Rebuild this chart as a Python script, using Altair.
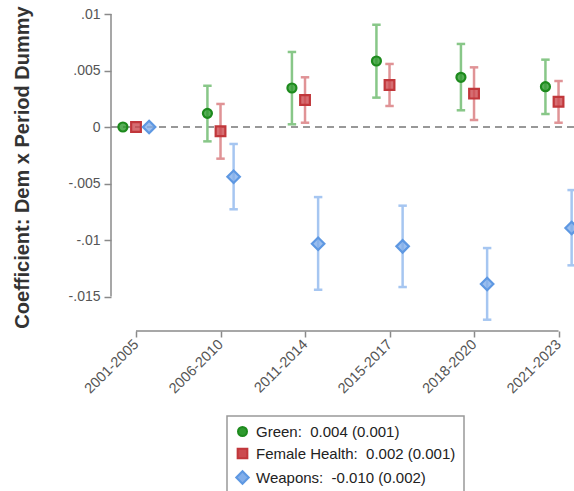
import altair as alt
import pandas as pd

# Period labels along the x axis
periods = ["2001-2005", "2006-2010", "2011-2014", "2015-2017", "2018-2020", "2021-2023"]

# Coefficient estimates and 95% CI bounds per period, one set per outcome
green_coef = [0.0, 0.00121, 0.00345, 0.00584, 0.00440, 0.00357]
green_lo = [0.0, -0.00127, 0.00024, 0.00260, 0.00148, 0.00115]
green_hi = [0.0, 0.00365, 0.00664, 0.00905, 0.00735, 0.00596]

health_coef = [0.0, -0.00038, 0.00239, 0.00372, 0.00295, 0.00224]
health_lo = [0.0, -0.00280, 0.00038, 0.00186, 0.00062, 0.00038]
health_hi = [0.0, 0.00204, 0.00440, 0.00558, 0.00528, 0.00407]

weapons_coef = [0.0, -0.00440, -0.01033, -0.01056, -0.01389, -0.00894]
weapons_lo = [0.0, -0.00728, -0.01440, -0.01416, -0.01705, -0.01224]
weapons_hi = [0.0, -0.00150, -0.00620, -0.00696, -0.01071, -0.00558]

# Legend entries: pooled estimate (standard error)
legend_labels = [
    "Green:\u00a0 0.004 (0.001)",
    "Female Health:\u00a0 0.002 (0.001)",
    "Weapons:\u00a0 -0.010 (0.002)",
]

# y axis ticks and their printed labels
y_ticks = [-0.015, -0.01, -0.005, 0.0, 0.005, 0.01]
y_tick_labels = ["-.015", "-.01", "-.005", "0", ".005", ".01"]

rows = []
for order, (label, coef, lo, hi) in enumerate([
    (legend_labels[0], green_coef, green_lo, green_hi),
    (legend_labels[1], health_coef, health_lo, health_hi),
    (legend_labels[2], weapons_coef, weapons_lo, weapons_hi),
]):
    for i, p in enumerate(periods):
        rows.append({"series": label, "order": order, "period": i,
                     "coef": coef[i], "lo": lo[i], "hi": hi[i]})
df = pd.DataFrame(rows)

W, H = 463, 317
FONT = "Liberation Sans"

x_scale = alt.Scale(domain=[-0.296, 5.183], nice=False, zero=False)
y_scale = alt.Scale(domain=[-0.01805, 0.01], nice=False, zero=False)

# label lookups for the axes
x_label_expr = "[" + ",".join(f"'{p}'" for p in periods) + "][round(datum.value)]"
y_label_expr = ""
for v, t in zip(y_ticks, y_tick_labels):
    y_label_expr += f"abs(datum.value - ({v})) < 0.001 ? '{t}' : "
y_label_expr += "''"

base = alt.Chart(df).transform_calculate(
    xpos="datum.period + (datum.order - 1) * 0.155"
)

x_enc = alt.X(
    "xpos:Q", scale=x_scale, title=None,
    axis=alt.Axis(values=list(range(len(periods))), labelExpr=x_label_expr,
                  domain=False, grid=False, tickSize=6, tickColor="#8a8a8a",
                  tickWidth=1.5, labelAngle=315, labelAlign="right",
                  labelBaseline="middle", labelFontSize=14.5, labelColor="#555555",
                  labelFont=FONT, labelPadding=5),
)

zero_line = alt.Chart(pd.DataFrame({"z": [0.0]})).mark_rule(
    color="#777777", strokeDash=[7, 5], strokeWidth=1.5
).encode(
    y=alt.Y("z:Q", scale=y_scale,
            title="Coefficient: Dem x Period Dummy",
            axis=alt.Axis(values=y_ticks, labelExpr=y_label_expr, domain=False,
                          grid=False, tickSize=7, tickColor="#8a8a8a",
                          tickWidth=1.5, labelFontSize=14, labelColor="#555555",
                          labelFont=FONT, labelPadding=4,
                          titleFont=FONT, titleFontSize=20,
                          titleFontWeight="bold", titleColor="#333333",
                          titleBaseline="alphabetic", titleX=-83, titleY=153))
)

y_axis_line = alt.Chart(pd.DataFrame({"a": [min(y_ticks)], "b": [max(y_ticks)]})).mark_rule(
    color="#8a8a8a", strokeWidth=1.5
).encode(
    x=alt.value(0),
    y=alt.Y("a:Q", scale=y_scale),
    y2="b:Q",
)

x_axis_line = alt.Chart(pd.DataFrame({"a": [0], "b": [len(periods) - 1]})).mark_rule(
    color="#8a8a8a", strokeWidth=1.5
).encode(
    x=alt.X("a:Q", scale=x_scale),
    x2="b:Q",
    y=alt.value(H),
)

bar_colors = ["#88c788", "#e09396", "#a6c6f1"]
fill_colors = ["#2e9a2e", "#cc4a4f", "#82aeea"]
stroke_colors = ["#1d8a1d", "#c1373b", "#5e98e2"]
# marker outlines: circle, square, diamond (unit coordinates scaled by the mark size)
marker_paths = [
    "M-0.9,0A0.9,0.9 0 1,0 0.9,0A0.9,0.9 0 1,0 -0.9,0Z",
    "M-0.97,-0.97H0.97V0.97H-0.97Z",
    "M-1.25,0L0,-1.25L1.25,0L0,1.25Z",
]

# confidence intervals with end caps, one colour per outcome
ci_layers = []
for label, col in zip(legend_labels, bar_colors):
    sub = base.transform_filter(
        alt.FieldEqualPredicate(field="series", equal=label)
    ).transform_filter("datum.hi != datum.lo")
    ci_layers.append(
        sub.mark_rule(strokeWidth=2.5, color=col).encode(
            x=x_enc, y=alt.Y("lo:Q", scale=y_scale), y2="hi:Q"
        )
    )
    for end in ["lo", "hi"]:
        ci_layers.append(
            sub.transform_calculate(
                x1="datum.xpos - 0.05", x2e="datum.xpos + 0.05"
            ).mark_rule(strokeWidth=2.5, color=col).encode(
                x=alt.X("x1:Q", scale=x_scale),
                x2="x2e:Q",
                y=alt.Y(f"{end}:Q", scale=y_scale),
            )
        )

points = base.mark_point(filled=True, strokeWidth=2.2, fillOpacity=0.8,
                         opacity=1, size=100).encode(
    x=x_enc,
    y=alt.Y("coef:Q", scale=y_scale),
    shape=alt.Shape("series:N", title=None,
                    scale=alt.Scale(domain=legend_labels, range=marker_paths)),
    fill=alt.Fill("series:N", title=None,
                  scale=alt.Scale(domain=legend_labels, range=fill_colors)),
    stroke=alt.Stroke("series:N", title=None,
                      scale=alt.Scale(domain=legend_labels, range=stroke_colors)),
)

chart = alt.layer(
    zero_line, y_axis_line, x_axis_line, *ci_layers, points
).properties(
    width=W, height=H,
    padding={"left": 111, "top": 14, "right": 0, "bottom": 160},
    autosize=alt.AutoSizeParams(type="none"),
).configure_view(
    stroke=None
).configure_legend(
    orient="none", legendX=116, legendY=402,
    strokeColor="#999999", strokeWidth=1.5, padding=8,
    labelFont=FONT, labelFontSize=15, labelColor="#222222", labelLimit=400,
    labelOffset=6, symbolStrokeWidth=2, rowPadding=4, symbolOffset=0,
    symbolSize=100,
)

chart.save("out.html", embed_options={"renderer": "svg", "actions": False})
